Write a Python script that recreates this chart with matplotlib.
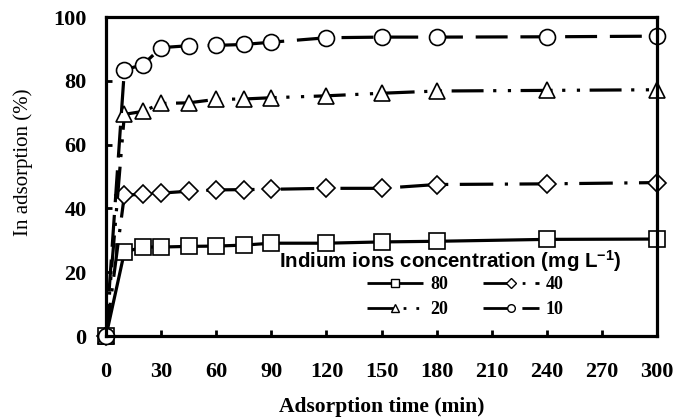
import matplotlib
matplotlib.use("Agg")
import matplotlib.pyplot as plt
from matplotlib.lines import Line2D

# -----------------------
# Data
# -----------------------
time_min = [0, 10, 20, 30, 45, 60, 75, 90, 120, 150, 180, 240, 300]

ads_80 = [0, 26.3, 27.9, 27.9, 28.1, 28.2, 28.5, 29.1, 29.1, 29.5, 29.7, 30.3, 30.4]
ads_40 = [0, 44.2, 44.4, 44.8, 45.4, 45.8, 45.9, 46.0, 46.3, 46.3, 47.5, 47.7, 48.1]
ads_20 = [0, 69.5, 70.4, 72.9, 73.1, 74.2, 74.3, 74.7, 75.3, 76.1, 76.8, 77.0, 77.2]
ads_10 = [0, 83.5, 85.0, 90.4, 91.0, 91.1, 91.4, 92.1, 93.5, 93.7, 93.7, 93.8, 94.0]

labels = ["80", "40", "20", "10"]
legend_title = "Indium ions concentration (mg L$^{-1}$)"

x_ticks = list(range(0, 301, 30))
y_ticks = list(range(0, 101, 20))

# -----------------------
# Styles
# -----------------------
serif = ["Liberation Serif", "DejaVu Serif"]
sans = ["Liberation Sans", "DejaVu Sans"]
plt.rcParams["font.family"] = serif
plt.rcParams["mathtext.default"] = "regular"

LW = 2.3
styles = [
    dict(marker="s", ms=11.5, dashes=None),
    dict(marker="D", ms=9.5, dashes=(10.5, 3.6, 1.0, 3.6)),
    dict(marker="^", ms=11.5, dashes=(10, 3.0, 1.0, 3.6, 1.0, 3.0)),
    dict(marker="o", ms=11.5, dashes=(10, 4.0)),
]

fig = plt.figure(figsize=(6.77, 4.19), dpi=100)
ax = fig.add_axes([0.1566, 0.198, 0.814, 0.7614])

series = [ads_80, ads_40, ads_20, ads_10]
for vals, st in zip(series, styles):
    line, = ax.plot(time_min, vals, color="black", lw=LW,
                    marker=st["marker"], ms=st["ms"], mfc="white", mec="black",
                    mew=1.2, clip_on=False, dash_capstyle="butt",
                    solid_capstyle="butt")
    if st["dashes"] is not None:
        line.set_dashes(st["dashes"])

ax.set_xlim(0, 300)
ax.set_ylim(0, 100)
ax.set_xticks(x_ticks)
ax.set_yticks(y_ticks)
ax.tick_params(axis="both", direction="in", width=2, length=4,
               labelsize=16)
ax.tick_params(axis="x", pad=19)
ax.tick_params(axis="y", pad=14)
for lab in ax.get_xticklabels() + ax.get_yticklabels():
    lab.set_fontweight("bold")

for sp in ax.spines.values():
    sp.set_linewidth(2.3)

ax.set_xlabel("Adsorption time (min)", fontsize=15.5, fontweight="bold")
ax.xaxis.set_label_coords(0.5, -0.19)
ax.set_ylabel("In adsorption (%)", fontsize=15)
ax.yaxis.set_label_coords(-0.132, 0.545)

# -----------------------
# Legend (title as separate text, small markers)
# -----------------------
ax.text(0.624, 0.235, legend_title, transform=ax.transAxes,
        ha="center", va="center", family=sans, weight="bold", fontsize=14.8)

handles = []
for st in styles:
    h = Line2D([], [], color="black", lw=2.0, marker=st["marker"],
               ms=5.5, mfc="white", mec="black", mew=1.0,
               dash_capstyle="butt", solid_capstyle="butt")
    if st["dashes"] is not None:
        h.set_dashes(st["dashes"])
    handles.append(h)

# ncol fills column-wise: put 80/20 in the first column, 40/10 in the second
order = [0, 2, 1, 3]
ax.legend([handles[i] for i in order], [labels[i] for i in order],
          ncol=2, frameon=False, loc="upper left",
          bbox_to_anchor=(0.474, 0.188), borderpad=0, borderaxespad=0,
          prop=dict(family=serif, weight="bold", size=13),
          handlelength=3.1, columnspacing=1.9, labelspacing=0.45,
          handletextpad=0.4)

plt.savefig("out.png", dpi=100)
